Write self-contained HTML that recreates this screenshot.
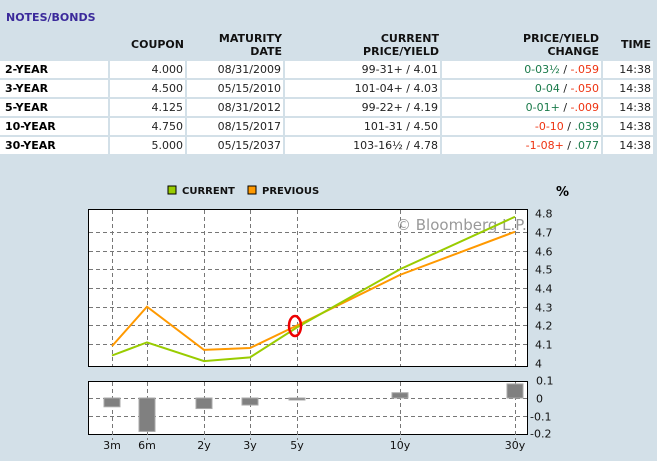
<!DOCTYPE html>
<html><head><meta charset="utf-8">
<style>
body{margin:0;width:657px;height:461px;background:#d3e0e8;font-family:"DejaVu Sans","Liberation Sans",sans-serif;position:relative;overflow:hidden}
.a{position:absolute;white-space:nowrap}
.t{font-size:11px;font-weight:bold;color:#3b2a9b;left:6px;top:11px}
.h{font-size:11px;font-weight:bold;color:#111;text-align:right;line-height:13px}
.c{position:absolute;background:#fff;height:17px;line-height:17px;font-size:11px;color:#222;text-align:right;padding-right:2px;box-sizing:border-box}
.l{text-align:left;font-weight:bold;padding-left:5px;color:#000}
.g{color:#1a7a4a}.r{color:#ee3311}
svg text{font-family:"DejaVu Sans","Liberation Sans",sans-serif}
</style></head><body>
<div class="a t">NOTES/BONDS</div>
<div class="a h" style="left:110px;width:74px;top:38px">COUPON</div>
<div class="a h" style="left:187px;width:95px;top:32px">MATURITY<br>DATE</div>
<div class="a h" style="left:285px;width:154px;top:32px">CURRENT<br>PRICE/YIELD</div>
<div class="a h" style="left:442px;width:157px;top:32px">PRICE/YIELD<br>CHANGE</div>
<div class="a h" style="left:603px;width:48px;top:38px">TIME</div>
<div id="rows"></div>
<svg id="ch" class="a" style="left:0;top:0" width="657" height="461"></svg>
<script>
const rows=[["2-YEAR","4.000","08/31/2009","99-31+ / 4.01",'<span class="g">0-03½</span> / <span class="r">-.059</span>'],
["3-YEAR","4.500","05/15/2010","101-04+ / 4.03",'<span class="g">0-04</span> / <span class="r">-.050</span>'],
["5-YEAR","4.125","08/31/2012","99-22+ / 4.19",'<span class="g">0-01+</span> / <span class="r">-.009</span>'],
["10-YEAR","4.750","08/15/2017","101-31 / 4.50",'<span class="r">-0-10</span> / <span class="g">.039</span>'],
["30-YEAR","5.000","05/15/2037","103-16½ / 4.78",'<span class="r">-1-08+</span> / <span class="g">.077</span>']];
const cols=[[0,108],[110,185],[187,283],[285,440],[442,601],[603,653]];
let html="";
rows.forEach((r,i)=>{const y=61+i*19;const cells=[...r,"14:38"];
cells.forEach((v,j)=>{html+=`<div class="c${j==0?' l':''}" style="left:${cols[j][0]}px;width:${cols[j][1]-cols[j][0]}px;top:${y}px">${v}</div>`;});});
document.getElementById("rows").innerHTML=html;

const categories=["3m","6m","2y","3y","5y","10y","30y"];
const current=[4.04,4.11,4.01,4.03,4.19,4.50,4.78];
const previous=[4.09,4.30,4.07,4.08,4.20,4.47,4.70];
const changes=[-0.05,-0.19,-0.06,-0.04,-0.01,0.03,0.08];
const yTicks=[4,4.1,4.2,4.3,4.4,4.5,4.6,4.7,4.8];
const dTicks=[0.1,0,-0.1,-0.2];
const xPos=[112,147,204,250,297,400,515];
const X=i=>xPos[i];
const Y=v=>363-(v-4)*187.5;
const D=v=>398-v*176;
const s=document.getElementById("ch");const NS="http://www.w3.org/2000/svg";
function el(t,a,txt){const e=document.createElementNS(NS,t);for(const k in a)e.setAttribute(k,a[k]);if(txt!=null)e.textContent=txt;s.appendChild(e);return e;}
let e;
e=el("rect",{x:88.5,y:209.5,width:439,height:157,fill:"#fff",stroke:"#000"});


e=el("rect",{x:88.5,y:381.5,width:439,height:53,fill:"#fff",stroke:"#000"});


yTicks.forEach(v=>{const y=Math.round(Y(v))+0.5;
if(v>4&&v<4.8){e=el("line",{x1:89,x2:527,y1:y,y2:y,stroke:"#777","stroke-dasharray":"4,3"});}
e=el("text",{x:535,y:y+4,"font-size":"11",fill:"#111"},String(v===4?"4":v.toFixed(1)));

});
dTicks.forEach(v=>{const y=Math.round(D(v))+0.5;
if(v===0||v===-0.1){e=el("line",{x1:89,x2:527,y1:y,y2:y,stroke:"#777","stroke-dasharray":"4,3"});}
e=el("text",{x:v<0?530:536,y:y+4,"font-size":"11",fill:"#111"},v===0?"0":String(v));

});
categories.forEach((c,i)=>{const x=X(i)+0.5;
e=el("line",{x1:x,x2:x,y1:210,y2:366,stroke:"#777","stroke-dasharray":"4,3"});
e=el("line",{x1:x,x2:x,y1:382,y2:440,stroke:"#777","stroke-dasharray":"4,3"});
e=el("text",{x:X(i),y:449,"font-size":"11",fill:"#111","text-anchor":"middle"},c);
});
e=el("text",{x:556,y:196,"font-size":"13","font-weight":"bold",fill:"#000"},"%");

e=el("text",{x:396,y:230,"font-size":"15",fill:"#999"},"© Bloomberg L.P.");

e=el("polyline",{points:previous.map((v,i)=>X(i)+","+Y(v)).join(" "),fill:"none",stroke:"#ff9900","stroke-width":2});

e=el("polyline",{points:current.map((v,i)=>X(i)+","+Y(v)).join(" "),fill:"none",stroke:"#99cc00","stroke-width":2});

e=el("ellipse",{cx:295,cy:326,rx:6,ry:10,fill:"none",stroke:"#ee0000","stroke-width":2.5});

changes.forEach((v,i)=>{const y0=D(0),y1=D(v);
e=el("rect",{x:X(i)-8,y:Math.min(y0,y1),width:16,height:Math.max(2,Math.abs(y1-y0)),fill:"#808080",stroke:"#aaa"});
});
e=el("rect",{x:168,y:186,width:8,height:8,fill:"#99cc00",stroke:"#000"});

e=el("text",{x:182,y:194,"font-size":"10","font-weight":"bold",fill:"#111"},"CURRENT");

e=el("rect",{x:248,y:186,width:8,height:8,fill:"#ff9900",stroke:"#000"});

e=el("text",{x:262,y:194,"font-size":"10","font-weight":"bold",fill:"#111"},"PREVIOUS");

</script>
</body></html>
